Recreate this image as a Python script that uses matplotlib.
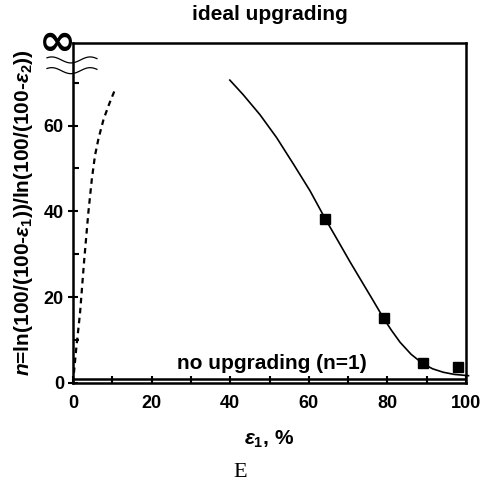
import numpy as np
import matplotlib.pyplot as plt

plt.rcParams['font.family'] = ['Liberation Sans', 'DejaVu Sans']
plt.rcParams['font.weight'] = 'bold'
plt.rcParams['mathtext.fontset'] = 'custom'
plt.rcParams['mathtext.it'] = 'Liberation Sans:italic:bold'
plt.rcParams['mathtext.rm'] = 'Liberation Sans:bold'

# measured points
eps1_pts = [64.1, 79.0, 89.0, 98.0]
n_pts = [38.3, 15.1, 4.6, 3.8]

# fitted (solid) curve
fit_x = [39.9, 43.3, 47.6, 51.8, 56.1, 60.3, 64.1, 67.5, 70.5, 73.5, 76.5, 79.0,
         81.0, 83.2, 86.0, 89.0, 91.5, 94.2, 97.0, 100.6]
fit_y = [70.6, 67.2, 62.5, 57.2, 51.0, 44.8, 38.4, 33.0, 28.2, 23.6, 19.0, 15.1,
         12.3, 9.5, 6.7, 4.5, 3.3, 2.5, 2.0, 1.7]

# ideal upgrading (dashed) curve
ideal_x = [0.0, 0.8, 1.8, 2.8, 3.9, 4.8, 5.6, 6.5, 7.8, 9.2, 10.7]
ideal_y = [0.0, 7.7, 16.3, 28.0, 39.6, 47.5, 53.0, 57.0, 61.5, 65.0, 68.4]

fig = plt.figure(figsize=(4.8, 4.91), dpi=100)
ax = fig.add_axes([0.152, 0.22, 0.819, 0.692])

ax.plot(fit_x, fit_y, color='black', lw=1.2, clip_on=False)
ax.plot(ideal_x, ideal_y, color='black', lw=1.6, ls=(0, (2.5, 2)))
ax.plot(eps1_pts, n_pts, 's', color='black', ms=7.5)
ax.axhline(1, color='black', lw=1.8)

ax.set_xlim(0, 100)
ax.set_ylim(0, 79.2)
ax.set_xticks(np.arange(0, 101, 20))
ax.set_xticks(np.arange(10, 100, 20), minor=True)
ax.set_yticks([0, 20, 40, 60])
ax.set_yticks([10, 30, 50, 70], minor=True)
ax.tick_params(axis='x', which='both', direction='in', length=5, width=1.5, labelsize=13, pad=9)
ax.tick_params(axis='y', which='major', direction='inout', length=7, width=1.5, labelsize=13, pad=3)
ax.tick_params(axis='y', which='minor', direction='in', length=4, width=1.5)
for lab in ax.get_xticklabels() + ax.get_yticklabels():
    lab.set_fontweight('bold')
for s in ax.spines.values():
    s.set_linewidth(1.8)

ax.set_title('ideal upgrading', fontsize=15, fontweight='bold', pad=17)
ax.set_xlabel(r'$\varepsilon_1$, %', fontsize=15, fontweight='bold', labelpad=12)
ax.set_ylabel(r'$n$=ln(100/(100-$\varepsilon_1$))/ln(100/(100-$\varepsilon_2$))',
              fontsize=15, fontweight='bold', labelpad=6)
ax.text(50.5, 2.4, 'no upgrading (n=1)', ha='center', va='bottom', fontsize=15, fontweight='bold')

# infinity and axis break marks
ax.text(-3.9, 79.4, '\u221e', ha='center', va='center', fontsize=32, fontweight='bold',
        family='DejaVu Sans', clip_on=False)
t = np.linspace(0, 1, 60)
wx = -6.6 + 12.7 * t
for y0 in [75.3, 72.8]:
    ax.plot(wx, y0 + 0.7 * np.sin(2 * np.pi * 1.3 * t + 0.8), color='black', lw=0.9, clip_on=False)

fig.text(0.5, 0.038, 'E', ha='center', va='center', fontsize=16, family='Liberation Serif',
         fontweight='normal')

fig.savefig('out.png', dpi=100)
